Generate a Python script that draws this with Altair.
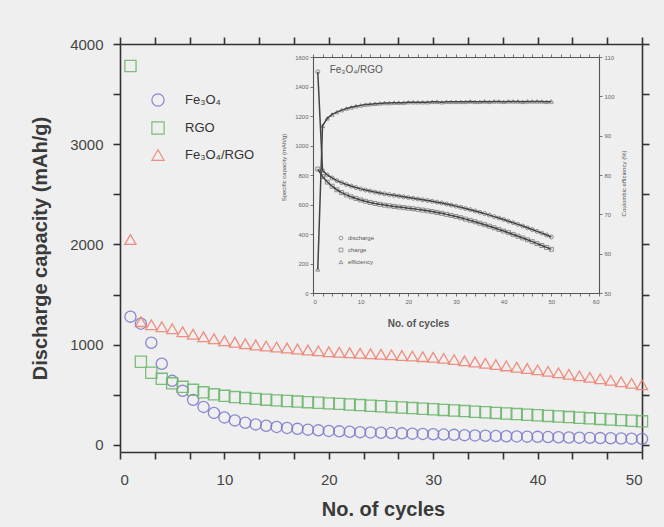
import altair as alt
import pandas as pd

# ---------------- main chart data ----------------
cycles = list(range(1, 51))
series_names = ["Fe₃O₄", "RGO", "Fe₃O₄/RGO"]
series_colors = ["#7d7dcf", "#6fb86f", "#ee8474"]
series_shapes = ["circle", "square", "triangle-up"]

fe3o4 = [1280, 1210, 1020, 810, 640, 540, 450, 380, 320, 275,
         245, 222, 205, 192, 180, 170, 161, 153, 146, 140,
         136, 132, 128, 125, 122, 119, 116, 113, 110, 107,
         104, 101, 98, 95, 92, 89, 87, 85, 83, 81,
         79, 77, 75, 73, 71, 69, 67, 65, 63, 61]
rgo = [3780, 830, 720, 660, 615, 580, 550, 525, 505, 490,
       478, 468, 460, 452, 445, 439, 433, 427, 421, 415,
       410, 404, 398, 392, 386, 380, 374, 368, 362, 356,
       350, 344, 338, 332, 326, 320, 314, 308, 302, 296,
       290, 284, 278, 272, 266, 260, 254, 248, 242, 236]
composite = [2050, 1230, 1200, 1180, 1160, 1130, 1105, 1080, 1060, 1040,
             1025, 1010, 998, 987, 977, 968, 958, 948, 939, 930,
             925, 920, 915, 910, 905, 899, 893, 887, 881, 875,
             864, 852, 840, 828, 815, 802, 789, 776, 763, 750,
             735, 720, 705, 690, 675, 660, 645, 630, 615, 600]

x_ticks = [0, 10/3, 20/3, 10, 40/3, 50/3, 20, 70/3, 80/3, 30,
           100/3, 110/3, 40, 130/3, 140/3, 50]
y_ticks = [0, 500, 1000, 1500, 2000, 2500, 3000, 3500, 4000]

# ---------------- inset data ----------------
inset_names = ["discharge", "charge", "efficiency"]
inset_shapes = ["circle", "square", "triangle-up"]
discharge = [1500, 830, 800, 780, 762, 748, 736, 725, 715, 706,
             698, 691, 684, 678, 672, 667, 662, 657, 652, 647,
             642, 637, 632, 627, 622, 616, 610, 603, 596, 589,
             581, 573, 565, 556, 547, 538, 528, 518, 508, 498,
             487, 476, 465, 454, 442, 430, 418, 406, 393, 380]
charge = [840, 790, 752, 724, 700, 681, 665, 652, 641, 631,
          622, 614, 607, 601, 596, 591, 587, 583, 579, 575,
          571, 567, 562, 557, 552, 546, 540, 533, 526, 518,
          510, 501, 492, 483, 473, 463, 453, 442, 431, 420,
          409, 397, 385, 373, 361, 348, 335, 322, 309, 296]
efficiency = [56, 92.5, 94.4, 95.4, 96.0, 96.5, 96.9, 97.2, 97.5, 97.7,
              97.9, 98.0, 98.1, 98.2, 98.3, 98.3, 98.4, 98.4, 98.4, 98.5,
              98.5, 98.5, 98.5, 98.5, 98.6, 98.6, 98.5, 98.6, 98.6, 98.6,
              98.6, 98.6, 98.7, 98.6, 98.6, 98.7, 98.6, 98.7, 98.7, 98.6,
              98.7, 98.7, 98.7, 98.6, 98.7, 98.7, 98.7, 98.7, 98.6, 98.7]
inset_x_ticks = list(range(0, 61, 2))
cap_ticks = [0, 200, 400, 600, 800, 1000, 1200, 1400, 1600]
ce_ticks = [50, 60, 70, 80, 90, 100, 110]
inset_label = ["Fe₃O₄/RGO"]

# ---------------- tables ----------------
main_df = pd.DataFrame({
    "cycle": cycles * 3,
    "capacity": fe3o4 + rgo + composite,
    "series": [series_names[0]] * 50 + [series_names[1]] * 50 + [series_names[2]] * 50,
})
cap_df = pd.DataFrame({
    "cycle": cycles * 2,
    "value": discharge + charge,
    "set": [inset_names[0]] * 50 + [inset_names[1]] * 50,
})
ce_df = pd.DataFrame({"cycle": cycles, "value": efficiency, "set": [inset_names[2]] * 50})
ann_df = pd.DataFrame({"cycle": [3.5], "value": [1510], "label": inset_label})

W, H = 522, 408
FONT = "Liberation Sans"
# inset geometry inside plot area (pixels)
IX0, IX1, IY0, IY1 = 193, 479, 249, 13

main_x_scale = alt.Scale(domain=[0, 50], nice=False, zero=False)
main_y_scale = alt.Scale(domain=[-70, 4000], nice=False, zero=False)
ax_common = dict(domainColor="#333", tickColor="#333", domainWidth=1.6, tickWidth=1.6,
                 tickSize=7, grid=False)

leg = alt.Legend(title=None, orient="none", legendX=31, legendY=49, symbolSize=150,
                 symbolStrokeWidth=1.2, labelFont=FONT, labelFontSize=13, labelColor="#333",
                 rowPadding=10, labelOffset=20, symbolFillColor="transparent")

main = alt.Chart(main_df).mark_point(filled=False, size=125, strokeWidth=1.3, opacity=0.9).encode(
    x=alt.X("cycle:Q", scale=main_x_scale,
            axis=alt.Axis(orient="bottom", values=x_ticks,
                          labelExpr="abs(datum.value/10 - round(datum.value/10)) < 0.001 ? format(round(datum.value), 'd') : ''",
                          title="No. of cycles", titleX=263, titleY=57, titleBaseline="middle",
                          labelFont=FONT, labelFontSize=15, labelColor="#454545", labelPadding=13,
                          titleFont=FONT, titleFontSize=20, titleFontWeight="bold", titleColor="#3a3a3a",
                          **ax_common)),
    y=alt.Y("capacity:Q", scale=main_y_scale,
            axis=alt.Axis(orient="left", values=y_ticks,
                          labelExpr="datum.value % 1000 == 0 ? format(datum.value, 'd') : ''",
                          title="Discharge capacity (mAh/g)", titleX=-80, titleY=204,
                          titleBaseline="middle", titleAngle=-90,
                          labelFont=FONT, labelFontSize=15, labelColor="#454545", labelPadding=10,
                          titleFont=FONT, titleFontSize=20, titleFontWeight="bold", titleColor="#3a3a3a",
                          **ax_common)),
    color=alt.Color("series:N", scale=alt.Scale(domain=series_names, range=series_colors), legend=leg),
    shape=alt.Shape("series:N", scale=alt.Scale(domain=series_names, range=series_shapes), legend=leg),
)

top_mirror = alt.Chart(main_df).mark_point(opacity=0).encode(
    x=alt.X("cycle:Q", scale=main_x_scale,
            axis=alt.Axis(orient="top", values=x_ticks, labels=False, title=None, **ax_common)))
right_mirror = alt.Chart(main_df).mark_point(opacity=0).encode(
    y=alt.Y("capacity:Q", scale=main_y_scale,
            axis=alt.Axis(orient="right", values=y_ticks, labels=False, title=None, **ax_common)))

# ---------------- inset ----------------
in_x_scale = alt.Scale(domain=[0, 60], range=[IX0, IX1], nice=False, zero=False)
cap_scale = alt.Scale(domain=[0, 1600], range=[IY0, IY1], nice=False, zero=False)
ce_scale = alt.Scale(domain=[50, 110], range=[IY0, IY1], nice=False, zero=False)
in_ax = dict(domainColor="#555", tickColor="#555", domainWidth=1.1, tickWidth=0.8, tickSize=3,
             grid=False, labelFont=FONT, labelFontSize=6, labelColor="#666", labelPadding=2,
             titleFont=FONT, titleColor="#555")
GRAY = "#444444"

cap_x_axis = alt.Axis(orient="bottom", offset=-(H - IY0), values=inset_x_ticks,
                      labelExpr="datum.value % 10 == 0 ? format(datum.value, 'd') : ''",
                      title="No. of cycles", titleX=298, titleY=30, titleBaseline="middle",
                      titleFontSize=10, titleFontWeight="bold", **in_ax)
cap_y_axis = alt.Axis(orient="left", offset=-IX0, values=cap_ticks, format="d",
                      title="Specific capacity (mAh/g)", titleX=-30, titleY=123,
                      titleBaseline="middle", titleAngle=-90,
                      titleFontSize=6, titleFontWeight="normal", **in_ax)

cap_base = alt.Chart(cap_df).encode(
    x=alt.X("cycle:Q", scale=in_x_scale, axis=cap_x_axis),
    y=alt.Y("value:Q", scale=cap_scale, axis=cap_y_axis),
    detail="set:N",
)
cap_lines = cap_base.mark_line(color=GRAY, strokeWidth=1.5)
cap_pts = cap_base.mark_point(filled=False, size=16, strokeWidth=0.8, color=GRAY).encode(
    shape=alt.Shape("set:N", scale=alt.Scale(domain=inset_names, range=inset_shapes),
                    legend=alt.Legend(title=None, orient="none", legendX=218, legendY=191,
                                      symbolSize=14, symbolStrokeColor=GRAY, symbolStrokeWidth=0.7,
                                      labelFont=FONT, labelFontSize=6, labelColor="#555",
                                      rowPadding=4, labelOffset=4)))
ann = alt.Chart(ann_df).mark_text(align="left", baseline="middle", font=FONT, fontSize=10,
                                  color="#555").encode(
    x=alt.X("cycle:Q", scale=in_x_scale, axis=cap_x_axis),
    y=alt.Y("value:Q", scale=cap_scale, axis=cap_y_axis),
    text="label:N")
cap_layer = alt.layer(cap_lines, cap_pts, ann)

ce_base = alt.Chart(ce_df).encode(
    x=alt.X("cycle:Q", scale=in_x_scale,
            axis=alt.Axis(orient="top", offset=-IY1, values=inset_x_ticks, labels=False, title=None,
                          **in_ax)),
    y=alt.Y("value:Q", scale=ce_scale,
            axis=alt.Axis(orient="right", offset=-(W - IX1), values=ce_ticks,
                          title="Coulombic efficiency (%)", titleX=24, titleY=139,
                          titleBaseline="middle", titleAngle=-90,
                          titleFontSize=6, titleFontWeight="normal", **in_ax)),
)
ce_layer = alt.layer(ce_base.mark_line(color=GRAY, strokeWidth=1.5),
                     ce_base.mark_point(filled=False, size=16, strokeWidth=0.8, color=GRAY,
                                        shape="triangle-up"))

chart = alt.layer(main, top_mirror, right_mirror, cap_layer, ce_layer).resolve_scale(
    x="independent", y="independent", shape="independent", color="independent"
).properties(
    width=W, height=H, autosize="none",
    padding={"left": 120, "top": 44, "right": 22, "bottom": 75},
    background="#efefef",
).configure_view(stroke=None)

chart.save("out.html", embed_options={"renderer": "svg", "actions": False})
